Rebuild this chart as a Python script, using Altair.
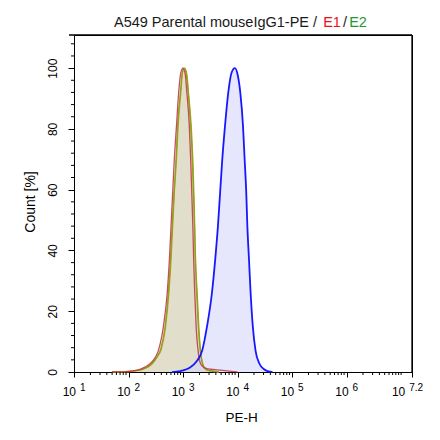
import math
import altair as alt
import pandas as pd

# ---- histogram curves: x in decades (log10 of PE-H), y in % of modal count ----
sample_logx = [2.80, 2.88, 3.00, 3.13, 3.25, 3.35, 3.44, 3.53, 3.59, 3.64, 3.68, 3.72, 3.77,
               3.83, 3.89, 3.95, 4.00, 4.05, 4.10, 4.13, 4.16, 4.18, 4.21, 4.24, 4.28, 4.33,
               4.40, 4.48, 4.55, 4.64]
sample_pct = [0, 0.1, 0.5, 1.5, 3.5, 7, 15, 26, 37, 48, 59, 70, 81,
              92, 98.5, 100, 98, 92, 81, 70, 59, 48, 37, 26, 15, 7,
              2.8, 1, 0.3, 0]

isotype_logx = [1.70, 1.85, 2.00, 2.12, 2.25, 2.35, 2.44, 2.52, 2.60, 2.68, 2.74, 2.78, 2.81,
                2.84, 2.88, 2.91, 2.96, 2.99, 3.03, 3.07, 3.10, 3.15, 3.18, 3.20, 3.215, 3.23,
                3.26, 3.29, 3.32, 3.36, 3.42, 3.54, 3.65]
isotype_pct = [0, 0.05, 0.15, 0.4, 0.8, 1.6, 2.8, 4.8, 7.5, 15, 26, 37, 48,
               59, 70, 81, 92, 98.5, 100, 98, 92, 81, 70, 59, 48, 37,
               26, 15, 7.2, 2.8, 0.8, 0.2, 0]

e2_logx = [1.70, 1.85, 2.00, 2.12, 2.25, 2.35, 2.44, 2.52, 2.59, 2.67, 2.73, 2.77, 2.80,
           2.835, 2.87, 2.90, 2.95, 2.985, 3.02, 3.06, 3.095, 3.14, 3.17, 3.19, 3.21, 3.225,
           3.25, 3.28, 3.315, 3.355, 3.42, 3.55, 3.66]
e2_pct = [0, 0.05, 0.2, 0.45, 0.9, 1.7, 3.0, 5.0, 7.6, 15, 26, 37, 48,
          59, 70, 81, 92, 98.5, 100, 98, 92, 81, 70, 59, 48, 37,
          26, 15, 7.2, 2.8, 0.9, 0.25, 0]

e1_logx = [1.70, 1.85, 1.94, 2.05, 2.18, 2.30, 2.40, 2.48, 2.55, 2.64, 2.71, 2.75, 2.78,
           2.81, 2.84, 2.88, 2.92, 2.96, 3.00, 3.04, 3.07, 3.115, 3.14, 3.16, 3.18, 3.195,
           3.215, 3.24, 3.275, 3.32, 3.38, 3.50, 3.69, 3.85, 4.00]
e1_pct = [0, 0.05, 0.1, 0.3, 0.7, 1.6, 2.8, 4.5, 7.2, 15, 26, 37, 48,
          59, 70, 81, 92, 98.5, 100, 98, 92, 81, 70, 59, 48, 37,
          26, 15, 7.2, 2.8, 1.5, 0.9, 0.6, 0.3, 0]

# ---- axis ticks ----
x_major = [1, 2, 3, 4, 5, 6, 7.2]
x_exponents = ["1", "2", "3", "4", "5", "6", "7.2"]
y_major = [0, 20, 40, 60, 80, 100]
x_min, x_max = 1, 7.2
y_min, y_max = 0, 110.9

title_parts = ["A549 Parental mouseIgG1-PE", "/", "E1", "/", "E2"]
title_colors = ["#1a1a1a", "#1a1a1a", "#e8101c", "#1a1a1a", "#1f9a32"]
title_centers = [137.5, 241, 258, 271, 284]

W, H = 338, 337
FONT = "Liberation Sans"

xscale = alt.Scale(domain=[x_min, x_max], nice=False, zero=False)
yscale = alt.Scale(domain=[y_min, y_max], nice=False, zero=False)
x_axis = alt.Axis(values=x_major, labels=False, tickSize=5, grid=False, title=None,
                  domainColor="black", tickColor="black")
y_axis = alt.Axis(values=y_major, tickSize=6, grid=False, title=None,
                  labelAngle=270, labelAlign="center", labelBaseline="alphabetic",
                  labelPadding=12, labelFont=FONT, labelFontSize=12, labelColor="black",
                  domainColor="black", tickColor="black")


def X(field):
    return alt.X(field, scale=xscale, axis=x_axis, title=None)


def Y(field):
    return alt.Y(field, scale=yscale, axis=y_axis, title=None)


def frame(name, xs, ys):
    return pd.DataFrame({"series": name, "logx": xs, "pct": ys})


curves = pd.concat([
    frame("Sample", sample_logx, sample_pct),
    frame("Isotype", isotype_logx, isotype_pct),
    frame("E2", e2_logx, e2_pct),
    frame("E1", e1_logx, e1_pct),
])
base = alt.Chart(curves)


def area(name, fill, opacity):
    return base.transform_filter(alt.datum.series == name).mark_area(
        interpolate="monotone", color=fill, opacity=opacity
    ).encode(x=X("logx:Q"), y=Y("pct:Q"))


def line(name, color, width, opacity=1.0):
    return base.transform_filter(alt.datum.series == name).mark_line(
        interpolate="monotone", color=color, strokeWidth=width, opacity=opacity
    ).encode(x=X("logx:Q"), y=Y("pct:Q"))


fills = [area("Isotype", "#dcd8c2", 0.85), area("Sample", "#d6d6fb", 0.6)]
lines = [
    line("Isotype", "#c4a000", 1.3),
    line("E2", "#7aa52a", 1.3, 0.9),
    line("E1", "#c43c44", 1.3, 0.9),
    line("Sample", "#1818ff", 1.8),
]

# minor ticks on the log axis (2..9 within each decade) and on the count axis
x_minor = [d + math.log10(k) for d in range(1, 7) for k in range(2, 10)] + [7]
y_minor = [v for v in range(4, 110, 4) if v % 20]

xminor = alt.Chart(pd.DataFrame({"v": x_minor})).mark_rule(color="black").encode(
    x=X("v:Q"), y=alt.value(H), y2=alt.value(H + 3))
yminor = alt.Chart(pd.DataFrame({"v": y_minor})).mark_rule(color="black").encode(
    y=Y("v:Q"), x=alt.value(-3), x2=alt.value(0))

one = pd.DataFrame({"k": [0]})
# closing frame: top edge (reaching slightly past the axis) and right edge
top_edge = alt.Chart(one).mark_rule(color="black", strokeWidth=1.3).encode(
    x=alt.value(-5), x2=alt.value(W), y=alt.value(0))
right_edge = alt.Chart(one).mark_rule(color="black", strokeWidth=1.3).encode(
    x=alt.value(W), y=alt.value(0), y2=alt.value(H))

# decade labels drawn as "10" with a raised exponent
labels = alt.Chart(pd.DataFrame({"pos": x_major, "exp": x_exponents})).transform_calculate(
    xl="datum.pos - 0.08 * (length(datum.exp) - 1)")
ten = labels.mark_text(text="10", align="right", baseline="alphabetic", dx=2,
                       font=FONT, fontSize=12, color="black").encode(
    x=X("xl:Q"), y=alt.value(H + 24))
sup = labels.mark_text(align="left", baseline="alphabetic", dx=6,
                       font=FONT, fontSize=10, color="black").encode(
    x=X("xl:Q"), y=alt.value(H + 19), text="exp:N")

xtitle = alt.Chart(one).mark_text(text="PE-H", font=FONT, fontSize=13.5, color="black",
                                  align="center", baseline="alphabetic").encode(
    x=alt.value(W / 2 - 1.5), y=alt.value(H + 50))
ytitle = alt.Chart(one).mark_text(text="Count [%]", font=FONT, fontSize=14, color="black",
                                  align="center", baseline="alphabetic", angle=270).encode(
    x=alt.value(-39), y=alt.value(167))

title_layers = [
    alt.Chart(one).mark_text(text=t, font=FONT, fontSize=14.5, color=c,
                             align="center", baseline="alphabetic").encode(
        x=alt.value(cx), y=alt.value(-8))
    for t, c, cx in zip(title_parts, title_colors, title_centers)
]

chart = alt.layer(
    *fills, *lines, xminor, yminor, top_edge, right_edge, ten, sup, xtitle, ytitle,
    *title_layers
).properties(
    width=W, height=H,
    background="white",
    padding={"left": 74, "top": 35, "right": 28, "bottom": 68},
    autosize=alt.AutoSizeParams(type="none"),
).configure_view(
    stroke="black", strokeWidth=1
)

chart.save("out.html", embed_options={"renderer": "svg", "actions": False})
